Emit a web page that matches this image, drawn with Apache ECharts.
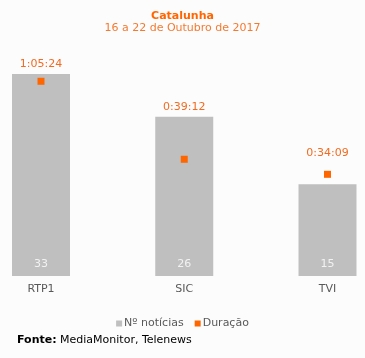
<!DOCTYPE html>
<html><head><meta charset="utf-8">
<script src="https://cdn.jsdelivr.net/npm/echarts@6/dist/echarts.min.js"></script>
<style>html,body{margin:0;padding:0;background:#fcfcfc}#c{width:365px;height:358px}</style>
</head><body><div id="c"></div>
<script>
var categories = ['RTP1', 'SIC', 'TVI'];
var noticias = [33, 26, 15];
var duracaoLabels = ['1:05:24', '0:39:12', '0:34:09'];
var duracaoSeconds = [3924, 2352, 2049];
var seriesNames = ['Nº notícias', 'Duração'];

var font = 'DejaVu Sans';
var chart = echarts.init(document.getElementById('c'));
var labelData = noticias.map(function (v, i) {
  var item = { value: v };
  if (duracaoSeconds[i] / 4937 > v / 40) {
    item.label = { offset: [0, -(duracaoSeconds[i] / 4937 * 245 - v / 40 * 245) - 12] };
  }
  return item;
});
chart.setOption({
  backgroundColor: '#fcfcfc',
  animation: false,
  textStyle: { fontFamily: font },
  title: {
    text: 'Catalunha',
    subtext: '16 a 22 de Outubro de 2017',
    left: 'center', top: 6, itemGap: 1,
    textStyle: { fontFamily: font, fontSize: 11, fontWeight: 'bold', color: '#ff6600' },
    subtextStyle: { fontFamily: font, fontSize: 11, color: '#f47a30' }
  },
  graphic: [{
    type: 'text', left: 17, top: 335,
    style: {
      text: '{b|Fonte:} MediaMonitor, Telenews',
      font: '11px DejaVu Sans', fill: '#000',
      rich: { b: { fontWeight: 'bold', fontFamily: font, fontSize: 11, fill: '#000' } }
    }
  }],
  legend: {
    data: seriesNames, left: 'center', top: 313,
    itemWidth: 6, itemHeight: 6, itemGap: 11,
    icon: 'rect',
    textStyle: { fontFamily: font, fontSize: 11, color: '#595959', padding: [0, 0, 0, -3] }
  },
  grid: { left: 41, right: 37.5, top: 31, bottom: 82 },
  xAxis: {
    type: 'category', data: categories, boundaryGap: false,
    axisLine: { show: false }, axisTick: { show: false },
    axisLabel: { margin: 8, fontSize: 11, color: '#595959', fontFamily: font }
  },
  yAxis: [
    { type: 'value', min: 0, max: 40, show: false, splitLine: { show: false } },
    { type: 'value', min: 0, max: 4937, show: false, splitLine: { show: false } }
  ],
  series: [
    {
      name: seriesNames[0], type: 'bar', data: noticias, barWidth: 58,
      itemStyle: { color: '#bfbfbf' },
      label: {
        show: true, position: 'insideBottom', distance: 6,
        color: '#f2f2f2', fontSize: 11, fontFamily: font
      }
    },
    {
      name: seriesNames[0] + '_top', type: 'bar', data: labelData, barWidth: 58, barGap: '-100%',
      itemStyle: { color: 'rgba(0,0,0,0)' }, silent: true,
      label: {
        show: true, position: 'top', distance: 4,
        color: '#f26b21', fontSize: 11, fontFamily: font,
        formatter: function (p) { return duracaoLabels[p.dataIndex]; }
      }
    },
    {
      name: seriesNames[1], type: 'line', yAxisIndex: 1, data: duracaoSeconds,
      symbol: 'rect', symbolSize: 7, lineStyle: { width: 0 },
      itemStyle: { color: '#ff6600' }
    }
  ]
});
</script></body></html>
